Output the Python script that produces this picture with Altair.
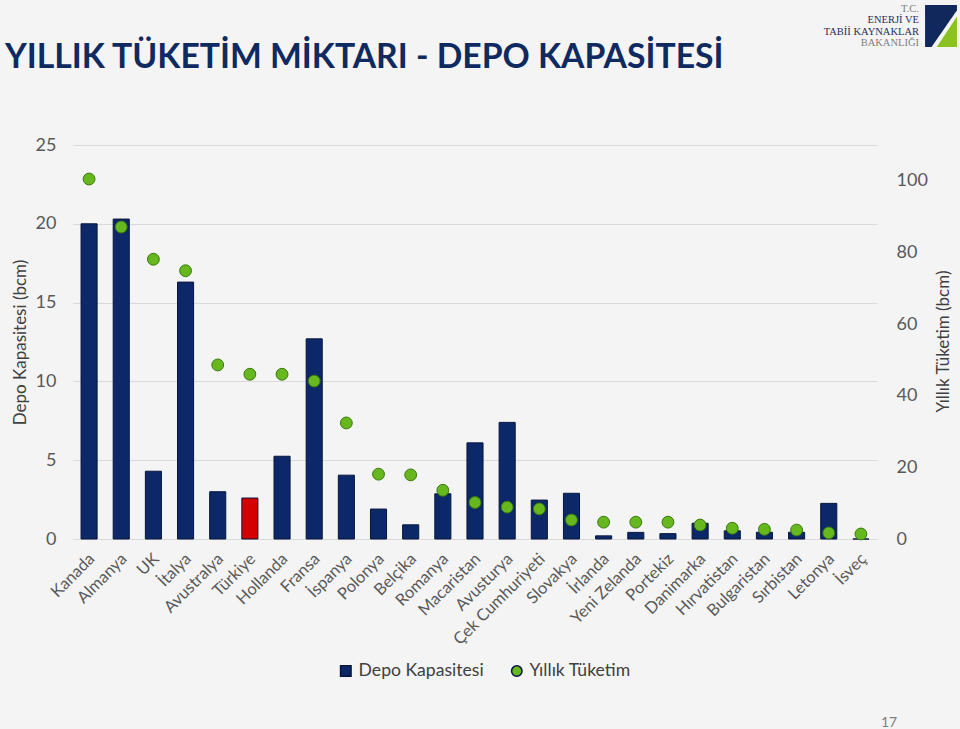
import altair as alt
import pandas as pd

countries = ["Kanada", "Almanya", "UK", "İtalya", "Avustralya", "Türkiye", "Hollanda",
             "Fransa", "İspanya", "Polonya", "Belçika", "Romanya", "Macaristan",
             "Avusturya", "Çek Cumhuriyeti", "Slovakya", "İrlanda", "Yeni Zelanda",
             "Portekiz", "Danimarka", "Hırvatistan", "Bulgaristan", "Sırbistan",
             "Letonya", "İsveç"]
depo = [20.0, 20.3, 4.3, 16.3, 3.0, 2.6, 5.25, 12.7, 4.05, 1.9, 0.9, 2.87, 6.1,
        7.4, 2.47, 2.9, 0.2, 0.42, 0.34, 1.0, 0.52, 0.43, 0.43, 2.26, 0.0]
tuketim = [100.5, 87.1, 78.1, 74.9, 48.6, 46.0, 46.0, 44.1, 32.4, 18.1, 17.9, 13.6,
           10.2, 8.9, 8.4, 5.3, 4.7, 4.7, 4.7, 3.9, 3.0, 2.7, 2.5, 1.7, 1.4]
series = ["Depo Kapasitesi", "Yıllık Tüketim"]
left_ticks = [0, 5, 10, 15, 20, 25]
right_ticks = [0, 20, 40, 60, 80, 100]
title_text = "YILLIK TÜKETİM MİKTARI - DEPO KAPASİTESİ"
logo_lines = ["T.C.", "ENERJİ VE", "TABİİ KAYNAKLAR", "BAKANLIĞI"]
page_no = "17"

df = pd.DataFrame({"country": countries, "depo": depo, "tuketim": tuketim})

FONT = "Lato"
NAVY = "#0d2868"
GREEN = "#66b81e"
RED = "#d40000"
GRAY = "#595959"

legend = alt.Legend(title=None, orient="none", legendX=264, legendY=517,
                    direction="horizontal", labelFont=FONT, labelFontSize=17.6,
                    labelColor="#404040", symbolSize=110, columnPadding=24,
                    labelOffset=4, labelLimit=300)

x_enc = alt.X("country:N", sort=countries, title=None,
              scale=alt.Scale(paddingInner=0.5, paddingOuter=0.25),
              axis=alt.Axis(labelAngle=-45, labelAlign="right", labelBaseline="middle",
                            labelPadding=17, labelOffset=3, labelFont=FONT,
                            labelFontSize=16.5, labelColor=GRAY, ticks=False,
                            domain=False, grid=False, labelOverlap=False, labelLimit=300))

color_scale = alt.Scale(domain=series, range=[NAVY, GREEN])

bars = alt.Chart(df).transform_calculate(s="'Depo Kapasitesi'").mark_bar(
    stroke="#06163d", strokeWidth=1
).encode(
    x=x_enc,
    y=alt.Y("depo:Q", title="Depo Kapasitesi (bcm)",
            scale=alt.Scale(domain=[0, 25], nice=False),
            axis=alt.Axis(values=left_ticks, orient="left", grid=True, gridColor="#d9d9d9",
                          gridWidth=1, ticks=False, domain=False, labelFont=FONT,
                          labelFontSize=18, labelColor=GRAY, labelPadding=17,
                          titleFont=FONT, titleFontSize=17, titleFontWeight="normal",
                          titleColor="#404040", titleX=-53, titleY=197, titleAngle=-90,
                          titleAlign="center", titleBaseline="middle")),
    color=alt.condition(alt.datum.country == "Türkiye", alt.value(RED),
                        alt.Color("s:N", scale=color_scale, legend=legend)),
)

points = alt.Chart(df).transform_calculate(s="'Yıllık Tüketim'").mark_point(
    filled=True, size=140, opacity=1, stroke="#3a7a0c", strokeWidth=1
).encode(
    x=alt.X("country:N", sort=countries),
    y=alt.Y("tuketim:Q", title="Yıllık Tüketim (bcm)",
            scale=alt.Scale(domain=[0, 110], nice=False),
            axis=alt.Axis(values=right_ticks, orient="right", grid=False, ticks=False,
                          domain=False, labelFont=FONT, labelFontSize=18, labelColor=GRAY,
                          labelPadding=19, titleFont=FONT, titleFontSize=17,
                          titleFontWeight="normal", titleColor="#404040", titleX=66,
                          titleY=196, titleAngle=-90, titleAlign="center",
                          titleBaseline="middle")),
    color=alt.Color("s:N", scale=color_scale, legend=legend),
    shape=alt.Shape("s:N", scale=alt.Scale(domain=series, range=["square", "circle"]),
                    legend=legend),
)

title = alt.Chart(pd.DataFrame({"t": [title_text]})).mark_text(
    font=FONT, fontSize=33.7, fontWeight="bold", color="#0f2a60", align="left",
    baseline="middle"
).encode(text="t:N", x=alt.value(-68), y=alt.value(-87))

logo_df = pd.DataFrame({"t": logo_lines, "row": [0, 1, 2, 3],
                        "c": ["#7f7f7f", "#1f2f5c", "#1f2f5c", "#7f7f7f"]})
logo_text = alt.Chart(logo_df).mark_text(
    font="Liberation Serif", fontSize=10.5, align="right", baseline="middle"
).encode(
    text="t:N",
    y=alt.Y("row:Q", axis=None, scale=alt.Scale(domain=[0, 3], range=[-136, -102])),
    x=alt.value(846),
    color=alt.Color("c:N", scale=None, legend=None),
)

logo_navy = alt.Chart(pd.DataFrame({"k": ["navy"]})).mark_point(
    filled=True, opacity=1, size=1764,
    shape="M-0.76,-1 L0.76,-1 L0.76,-0.75 L-0.45,1 L-0.76,1 Z",
    color="#10285c").encode(x=alt.value(868), y=alt.value(-119), detail="k:N")
logo_green = alt.Chart(pd.DataFrame({"k": ["green"]})).mark_point(
    filled=True, opacity=1, size=1764, shape="M0.76,-0.45 L0.76,1 L-0.2,1 Z",
    color="#8cc21f").encode(x=alt.value(868), y=alt.value(-119), detail="k:N")

page = alt.Chart(pd.DataFrame({"t": [page_no]})).mark_text(
    font=FONT, fontSize=14, color="#7f7f7f", align="center", baseline="middle"
).encode(text="t:N", x=alt.value(816), y=alt.value(578))

chart = alt.layer(bars, points, title, logo_text, logo_navy, logo_green, page).resolve_scale(
    y="independent"
).properties(
    width=804, height=394,
    autosize=alt.AutoSizeParams(type="none"),
    padding={"left": 73, "top": 145, "right": 83, "bottom": 190},
).configure(background="#f4f4f4").configure_view(stroke=None)

chart.save("out.html", embed_options={"renderer": "svg", "actions": False})
